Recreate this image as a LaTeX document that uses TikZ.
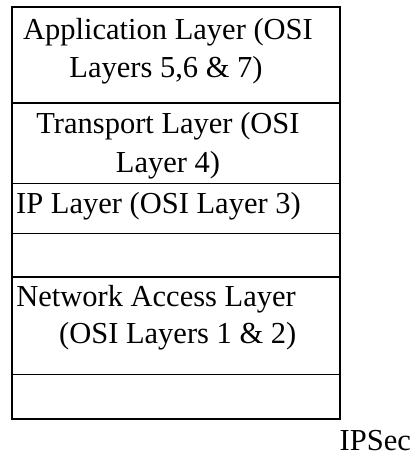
\documentclass[tikz,border=0pt]{standalone}
\usepackage{fontspec}
\setmainfont{Liberation Serif}
\begin{document}
\begin{tikzpicture}[x=1pt,y=-1pt,
  txt/.style={inner sep=0pt,anchor=base,font=\fontsize{30.5}{37}\selectfont},
  txtw/.style={txt,anchor=base west},
  frame/.style={line width=2pt},
  sep/.style={line width=1.6pt}]
\useasboundingbox (0,0) rectangle (412,457);
% frame
\coordinate (tl) at (11.5,7);
\coordinate (br) at (340,419);
\draw[frame] (tl) rectangle (br);
% separators
\foreach \y/\n in {102.7/s1,183.5/s2,233.3/s3,277.3/s4,374.3/s5}{
  \coordinate (\n l) at (11.5,\y);
  \coordinate (\n r) at (340,\y);
}
\draw[frame] (s1l) -- (s1r);
\draw[sep] (s2l) -- (s2r);
\draw[sep] (s3l) -- (s3r);
\draw[frame] (s4l) -- (s4r);
\draw[sep] (s5l) -- (s5r);
% texts
\node[txt] (app1) at (168,39.3) {Application Layer (OSI};
\node[txt] (app2) at (166,77.3) {Layers 5,6 \& 7)};
\node[txt] (tr1) at (168,133.5) {Transport Layer (OSI};
\node[txt] (tr2) at (168,172) {Layer 4)};
\node[txtw] (ip) at (16,213.5) {IP Layer (OSI Layer 3)};
\node[txt,anchor=base east] (na1) at (296,306.5) {Network Access Layer};
\node[txt,anchor=base east] (na2) at (296.5,343.3) {(OSI Layers 1 \& 2)};
\node[txt,anchor=base west] (ipsec) at (339.5,450.5) {IPSec};
\end{tikzpicture}
\end{document}
